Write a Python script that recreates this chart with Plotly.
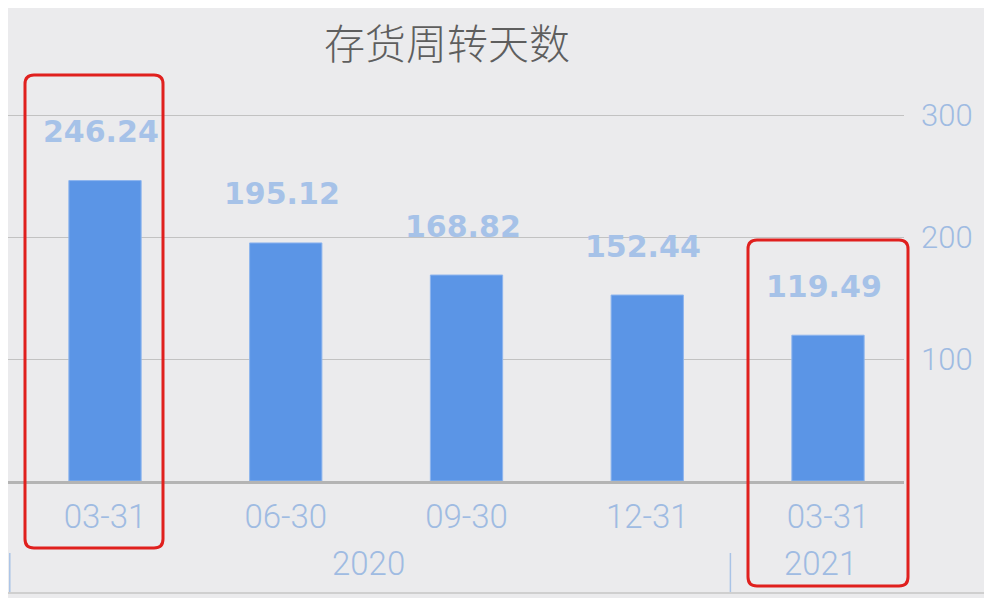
import plotly.graph_objects as go

# data
dates = ["03-31", "06-30", "09-30", "12-31", "03-31"]
years = ["2020", "2020", "2020", "2020", "2021"]
days = [246.24, 195.12, 168.82, 152.44, 119.49]
y_ticks = [100, 200, 300]

BG = "#EBEBED"
BAR = "#5B95E6"
LABEL = "#A6C2E8"
TICK = "#9FBBE2"
RED = "#E0201E"

W, H = 992, 598
OFF = 8  # page draws the figure 8px in from the window corner
L, R, T, B = 0, W - (904 - OFF), 80 - OFF, H - (481 - OFF)
plot_w = W - L - R
plot_h = H - T - B
step = 180.75  # px per category
x_range = [-(105 - OFF) / step, (plot_w - (105 - OFF)) / step]


def px_x(px):
    return (px - OFF - L) / plot_w


def px_y(py):
    return (H - B - (py - OFF)) / plot_h


def data_to_paper_x(x):
    return (x - x_range[0]) / (x_range[1] - x_range[0])


def round_box(x0, y0, x1, y1, r=9):
    # rounded rectangle in paper coords, given window pixel corners
    rx, ry = r / plot_w, r / plot_h
    a, b, c, d = px_x(x0), px_y(y1), px_x(x1), px_y(y0)
    return (f"M {a + rx},{b} L {c - rx},{b} Q {c},{b} {c},{b + ry} "
            f"L {c},{d - ry} Q {c},{d} {c - rx},{d} L {a + rx},{d} "
            f"Q {a},{d} {a},{d - ry} L {a},{b + ry} Q {a},{b} {a + rx},{b} Z")


xs = list(range(len(days)))

fig = go.Figure()
fig.add_trace(go.Bar(
    x=xs, y=days, width=0.4,
    marker=dict(color=BAR, line=dict(color="#8DB5EE", width=1)),
    hoverinfo="skip",
))

# value labels above bars
for x, v in zip(xs, days):
    fig.add_annotation(x=x, y=v, text=f"{v:.2f}", showarrow=False,
                       yanchor="middle", yshift=49, xshift=-4,
                       font=dict(family="DejaVu Sans", size=30, color=LABEL, weight="bold"))

# year labels centred under their groups
groups = {}
for x, yr in zip(xs, years):
    groups.setdefault(yr, []).append(x)
for yr, members in groups.items():
    fig.add_annotation(x=sum(members) / len(members) - 0.04, y=px_y(563), xref="x", yref="paper",
                       text=yr, showarrow=False, yanchor="middle",
                       font=dict(family="Roboto", size=33, color=TICK, weight=300))

# group dividers (paper coords so the left one is not clipped)
bounds = [-0.5] + [xs[i] + 0.5 for i in range(len(years) - 1) if years[i] != years[i + 1]]
for bx in bounds:
    px = data_to_paper_x(bx - 0.04)
    fig.add_shape(type="line", xref="paper", yref="paper", x0=max(px, 0.002), x1=max(px, 0.002),
                  y0=px_y(553), y1=px_y(592), line=dict(color="#A9C3E6", width=1.5))

# bottom border
fig.add_shape(type="line", xref="paper", yref="paper", x0=px_x(0), x1=px_x(W),
              y0=px_y(593), y1=px_y(593), line=dict(color="#CFCFCF", width=2))

# red highlight boxes
fig.add_shape(type="path", xref="paper", yref="paper", path=round_box(25, 75, 163, 548),
              line=dict(color=RED, width=3))
fig.add_shape(type="path", xref="paper", yref="paper", path=round_box(748, 240, 908, 586),
              line=dict(color=RED, width=3))

fig.update_layout(
    width=W, height=H,
    margin=dict(l=L, r=R, t=T, b=B),
    paper_bgcolor=BG, plot_bgcolor=BG,
    showlegend=False,
    title=dict(text="存货周转天数", x=(447 - OFF) / W, xanchor="center",
               y=1 - (45 - OFF) / H, yanchor="middle",
               font=dict(family="Noto Sans CJK SC", size=41, color="#5E5E5E", weight=300)),
    xaxis=dict(
        range=x_range,
        tickmode="array", tickvals=xs, ticktext=dates,
        showgrid=False, zeroline=False,
        showline=True, linecolor="#B4B4B4", linewidth=3,
        ticks="", ticklabelstandoff=4,
        tickfont=dict(family="Roboto", size=33, color=TICK, weight=300),
        fixedrange=True,
    ),
    yaxis=dict(
        side="right",
        range=[0, plot_h / 1.22],
        tickmode="array", tickvals=y_ticks,
        showgrid=True, gridcolor="#C2C2C2", gridwidth=1,
        zeroline=False, showline=False, ticks="",
        ticklabelstandoff=16,
        tickfont=dict(family="Roboto", size=31, color=TICK, weight=300),
        fixedrange=True,
    ),
)

fig.write_html("out.html")
